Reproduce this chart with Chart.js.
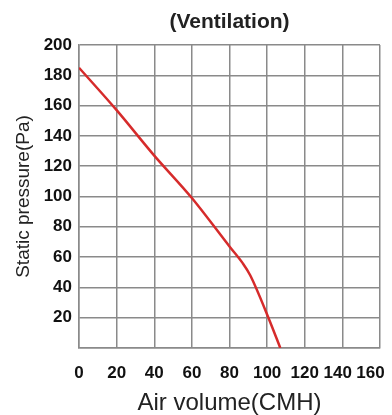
<!DOCTYPE html>
<html>
<head>
<meta charset="utf-8">
<script src="https://cdn.jsdelivr.net/npm/chart.js@4/dist/chart.umd.min.js"></script>
<style>
  body { margin: 0; background: #fff; }
  #wrap { width: 392px; height: 415px; }
</style>
</head>
<body>
<div id="wrap"><canvas id="curve" width="392" height="415"></canvas></div>
<script>
// air volume (CMH) vs static pressure (Pa)
var airVolume = [0, 20, 40, 60, 80, 87, 91, 101, 107];
var staticPressure = [185, 157, 127, 99, 67, 56, 48, 19, 0];
var xTicks = [0, 20, 40, 60, 80, 100, 120, 140, 160];
var yTicks = [20, 40, 60, 80, 100, 120, 140, 160, 180, 200];

var points = [];
for (var i = 0; i < airVolume.length; i++) {
    points.push({x: airVolume[i], y: staticPressure[i]});
}

var gridColor = '#8a8a8a';
var font = 'Liberation Sans, Arial, sans-serif';

// last two labels sit a bit left of their gridline in the original, so nudge them
function xLabel(v){
    if (v === 160) return v + '\u00a0\u00a0\u00a0\u00a0';
    if (v === 140) return v + '\u00a0\u00a0';
    return '' + v;
}

new Chart(document.getElementById('curve'), {
    type: 'line',
    data: {
        datasets: [{
            data: points,
            borderColor: '#d62b2b',
            borderWidth: 2.5,
            pointRadius: 0,
            fill: false,
            cubicInterpolationMode: 'monotone'
        }]
    },
    options: {
        responsive: false,
        animation: false,
        devicePixelRatio: 1,
        layout: {padding: 0},
        plugins: {
            legend: {display: false},
            tooltip: {enabled: false},
            title: {
                display: true,
                text: '(Ventilation)',
                fullSize: false,
                color: '#222',
                font: {family: font, size: 21, weight: 'bold'},
                padding: {top: 9.5, bottom: 10.3}
            }
        },
        scales: {
            x: {
                type: 'linear',
                min: 0,
                max: 160,
                afterBuildTicks: function(s){ s.ticks = xTicks.map(function(v){ return {value: v}; }); },
                afterFit: function(s){ s.height = 67; s.paddingRight = 12; s.paddingLeft = 0; },
                grid: {color: gridColor, lineWidth: 1.5, drawTicks: false},
                border: {color: gridColor, width: 1.5},
                ticks: {
                    color: '#111',
                    padding: 15,
                    autoSkip: false,
                    maxRotation: 0,
                    font: {family: font, size: 17, weight: 'bold'},
                    callback: xLabel
                },
                title: {
                    display: true,
                    text: 'Air volume(CMH)',
                    color: '#222',
                    font: {family: font, size: 24},
                    padding: {top: 0, bottom: -3}
                }
            },
            y: {
                min: 0,
                max: 200,
                afterBuildTicks: function(s){ s.ticks = [0].concat(yTicks).map(function(v){ return {value: v}; }); },
                afterFit: function(s){ s.width = 79; },
                grid: {color: gridColor, lineWidth: 1.5, drawTicks: false},
                border: {color: gridColor, width: 1.5},
                ticks: {
                    color: '#111',
                    padding: 7,
                    autoSkip: false,
                    font: {family: font, size: 17, weight: 'bold'},
                    callback: function(v){ return v === 0 ? '' : v; }
                },
                title: {
                    display: true,
                    text: 'Static pressure(Pa)',
                    color: '#222',
                    font: {family: font, size: 19},
                    padding: {top: 12, bottom: 0}
                }
            }
        }
    }
});
</script>
</body>
</html>
